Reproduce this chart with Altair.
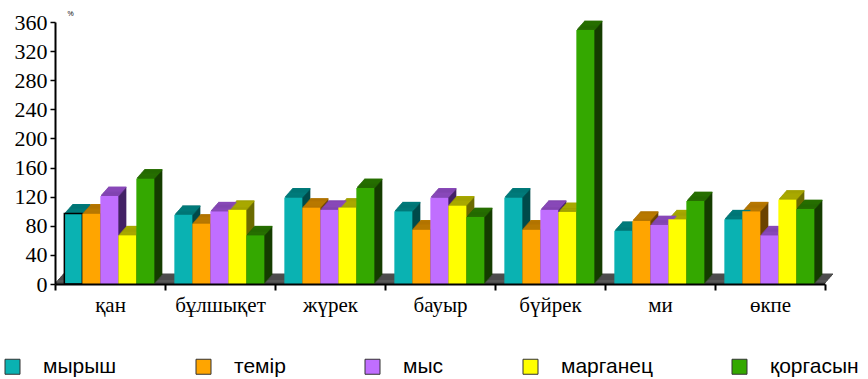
import json
import altair as alt
import pandas as pd

categories = ["қан", "бұлшықет", "жүрек", "бауыр", "бүйрек", "ми", "өкпе"]
series = ["мырыш", "темір", "мыс", "марганец", "қоргасын"]

zinc = [97, 95, 119, 100, 119, 73, 89]
iron = [97, 83, 105, 75, 75, 87, 100]
copper = [121, 100, 102, 119, 102, 81, 67]
manganese = [67, 102, 105, 108, 99, 89, 116]
lead = [145, 67, 132, 92, 349, 114, 103]

series_values = [zinc, iron, copper, manganese, lead]

rows = []
for ci, c in enumerate(categories):
    for sj, s in enumerate(series):
        rows.append({"cat": c, "ci": ci, "series": s, "sj": sj,
                     "value": series_values[sj][ci]})
df = pd.DataFrame(rows)

front_colors = ["#0AB2B2", "#FFA500", "#C06EFF", "#FFFF00", "#34A800"]
top_colors = ["#007A7A", "#B87800", "#8848B8", "#A8A800", "#266E00"]
side_colors = ["#004A4A", "#6C4400", "#442266", "#6C6C00", "#153D00"]

GROUP_PAD = 0.085
BAR_W = 18 / 110
DEPTH = 8
DY = 9 / 8

xscale = alt.Scale(domain=[0, 7], nice=False, zero=False)
yscale = alt.Scale(domain=[0, 360], nice=False)

cats_js = json.dumps(categories, ensure_ascii=False)
x_axis = alt.Axis(
    values=[i / 2 for i in range(15)],
    labelExpr=f"datum.value % 1 == 0.5 ? {cats_js}[floor(datum.value)] : ''",
    tickOpacity=alt.ExprRef(expr="datum.value % 1 == 0 ? 1 : 0"),
    title=None, grid=False, domainColor="black", domainWidth=2,
    tickColor="black", tickWidth=2, tickSize=6, labelPadding=4,
    labelFont="Liberation Serif", labelFontSize=21, labelColor="black",
    labelOverlap=False, labelFlush=False, zindex=1,
)
y_axis = alt.Axis(
    values=list(range(0, 361, 40)), title="%", titleAngle=0, titleX=15, titleY=-9,
    titleFontSize=7, titleFont="Liberation Sans", titleFontWeight="normal",
    titleAlign="center", titleBaseline="middle",
    grid=False, domainColor="black", domainWidth=2, tickColor="black",
    tickWidth=1.5, tickSize=5, labelPadding=3, labelFont="Liberation Serif",
    labelFontSize=22, labelColor="black", zindex=1,
)

layers = []

# floor slab
floor_df = pd.DataFrame({"k": [0]})
for i in range(0, DEPTH + 1):
    enc = dict(
        x=alt.X(datum=0, type="quantitative", scale=xscale, axis=x_axis),
        x2=alt.X2(datum=7),
        y=alt.Y(datum=0, type="quantitative", scale=yscale, axis=y_axis),
        y2=alt.Y2(datum=0),
    )
    layers.append(
        alt.Chart(floor_df).mark_rect(
            color="#4d4d4d", xOffset=i, x2Offset=i,
            yOffset=-i * DY - 1.6, y2Offset=-i * DY,
        ).encode(**enc)
    )

base = alt.Chart(df).transform_calculate(
    x0=f"datum.ci + {GROUP_PAD} + {BAR_W} * datum.sj",
    x1=f"datum.ci + {GROUP_PAD} + {BAR_W} * (datum.sj + 1)",
    zero="0",
)

def pos(y2field):
    return dict(
        x=alt.X("x0:Q", scale=xscale, axis=x_axis),
        x2="x1:Q",
        y=alt.Y("value:Q", scale=yscale, axis=y_axis),
        y2=y2field,
    )

# side faces
for i in range(DEPTH, 0, -1):
    layers.append(
        base.mark_rect(xOffset=i, x2Offset=i, yOffset=-i * DY, y2Offset=-i * DY)
        .encode(color=alt.Color("series:N", scale=alt.Scale(domain=series, range=side_colors),
                                legend=None), **pos("zero:Q"))
    )

# top faces
for i in range(1, DEPTH + 1):
    layers.append(
        base.mark_rect(xOffset=i, x2Offset=i, yOffset=-i * DY - 0.4,
                       y2Offset=-(i - 1) * DY)
        .encode(color=alt.Color("series:N", scale=alt.Scale(domain=series, range=top_colors),
                                legend=None), **pos("value:Q"))
    )

# front faces
legend = alt.Legend(
    orient="none", legendX=-53, legendY=334, direction="horizontal", title=None,
    symbolType="square", symbolSize=225, symbolStrokeColor="#333333",
    symbolStrokeWidth=1, labelFont="Liberation Sans", labelFontSize=21,
    labelColor="black", labelOffset=20, columnPadding=76,
)
layers.append(
    base.mark_rect(strokeWidth=1.5)
    .encode(
        color=alt.Color("series:N", scale=alt.Scale(domain=series, range=front_colors),
                        legend=legend),
        stroke=alt.condition("datum.ci == 0 && datum.sj == 0",
                             alt.value("black"), alt.value(None)),
        **pos("zero:Q"),
    )
)

chart = (
    alt.layer(*layers)
    .resolve_scale(color="independent")
    .properties(
        width=770, height=262, autosize="none",
        padding={"left": 55, "top": 22, "right": 43, "bottom": 95},
        background="white",
    )
    .configure_view(stroke=None)
)

chart.save("out.html", embed_options={"renderer": "svg", "actions": False})
